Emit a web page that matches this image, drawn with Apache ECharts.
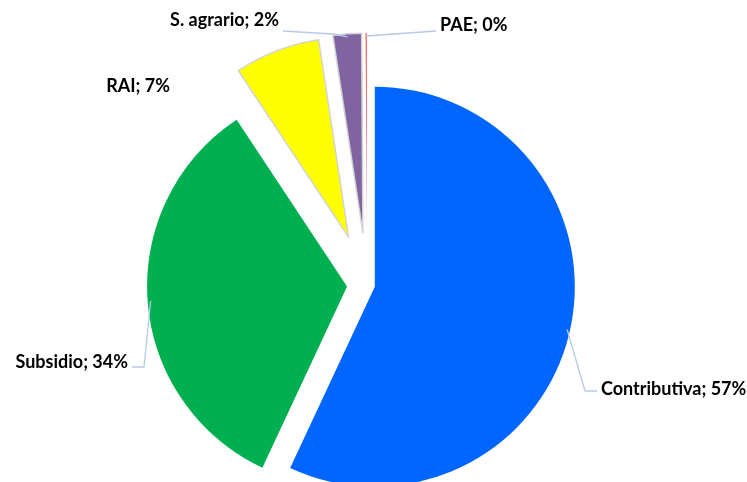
<!DOCTYPE html>
<html>
<head>
<meta charset="utf-8">
<title>Pie</title>
<script src="https://cdn.jsdelivr.net/npm/echarts@6/dist/echarts.min.js"></script>
<style>
  html, body { margin: 0; padding: 0; background: #fff; }
  #chartmain { width: 747px; height: 482px; }
</style>
</head>
<body>
<div id="chartmain"></div>
<script>
    // datos
    var categories = ['Contributiva', 'Subsidio', 'RAI', 'S. agrario', 'PAE'];
    var values = [56.9, 33.7, 6.9, 2.3, 0.1];

    // estilos
    var colors = ['#0066FF', '#00B050', '#FFFF00', '#8064A2', '#FF4D4D'];
    var explode = [8, 20, 51, 52, 52];
    var pieCenter = [367, 285];
    var pieRadius = 200;
    // posicion de etiquetas [x, y, align]
    var labelPos = [[601, 389, 'left'], [128, 362, 'right'], [170, 86, 'right'], [279, 20, 'right'], [440, 25, 'left']];
    // fin de la linea guia respecto a la etiqueta [dy, codo]
    var lineEnd = [[2, 12], [5, 12], [0, 0], [11, 50], [6, 0]];
    var noLine = [false, false, true, false, false];

    var total = values.reduce(function (a, b) { return a + b; }, 0);

    var myChart = echarts.init(document.getElementById('chartmain'));

    // una serie por porcion, para poder separar cada una a distinta distancia
    var series = [];
    for (var i = 0; i < categories.length; i++) {
        var data = [];
        for (var j = 0; j < categories.length; j++) {
            var own = (i === j);
            data.push({
                name: categories[j],
                value: values[j],
                selected: own,
                itemStyle: own ? {
                    color: colors[j],
                    borderColor: (j === 2 || j === 3) ? '#d4d4d4' : colors[j],
                    borderWidth: (j === 2 || j === 3) ? 1.5 : 0
                } : { color: 'rgba(0,0,0,0)', borderWidth: 0 }
            });
        }
        series.push({
            type: 'pie',
            center: pieCenter,
            radius: pieRadius,
            startAngle: 90,
            clockwise: true,
            selectedMode: 'multiple',
            selectedOffset: explode[i],
            silent: true,
            animation: false,
            label: { show: false },
            labelLine: { show: false },
            data: data
        });
    }

    // etiquetas y lineas guia
    var elements = [];
    var acc = 0;
    for (var k = 0; k < categories.length; k++) {
        var p = labelPos[k];
        var mid = (acc + values[k] / 2) / total * Math.PI * 2;
        acc += values[k];
        if (!noLine[k]) {
            var ux = Math.sin(mid), uy = -Math.cos(mid);
            var cx = pieCenter[0] + explode[k] * ux, cy = pieCenter[1] + explode[k] * uy;
            var sx = cx + (pieRadius - 3) * ux, sy = cy + (pieRadius - 3) * uy;
            var ey = p[1] + lineEnd[k][0];
            var ex = p[2] === 'left' ? p[0] - 4 : p[0] + 4;
            var mx = p[2] === 'left' ? ex - lineEnd[k][1] : ex + lineEnd[k][1];
            var my = k === 3 ? ey + 3 : ey;
            elements.push({
                type: 'polyline',
                silent: true,
                z: 100,
                shape: { points: [[sx, sy], [mx, my], [ex, ey]] },
                style: { stroke: '#b9c9e8', lineWidth: 1.3, fill: null }
            });
        }
        elements.push({
            type: 'text',
            x: p[0],
            y: p[1],
            silent: true,
            z: 100,
            style: {
                text: categories[k] + '; ' + Math.round(values[k] / total * 100) + '%',
                font: 'bold 18px Lato',
                fill: '#000',
                align: p[2],
                textAlign: p[2],
                verticalAlign: 'middle',
                textVerticalAlign: 'middle'
            }
        });
    }

    var option = {
        backgroundColor: '#fff',
        graphic: { elements: elements },
        series: series
    };
    myChart.setOption(option);
</script>
</body>
</html>
